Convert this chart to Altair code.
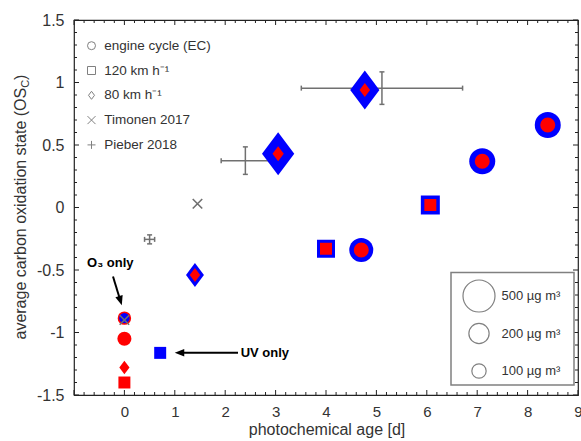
import altair as alt
import pandas as pd

# ---------------- data ----------------
EC = "engine cycle (EC)"
K120 = "120 km h⁻¹"
K80 = "80 km h⁻¹"
TIM = "Timonen 2017"
PIE = "Pieber 2018"
categories = [EC, K120, K80, TIM, PIE]

# aged experiments: blue = total OA mass, red = primary
aged_age = [1.40, 3.05, 4.77, 4.00, 6.07, 4.70, 7.10, 8.40]
aged_osc = [-0.54, 0.43, 0.94, -0.33, 0.02, -0.34, 0.37, 0.66]
aged_cycle = [K80, K80, K80, K120, K120, EC, EC, EC]
aged_total = [280, 900, 740, 158, 176, 281, 330, 330]
aged_primary = [96, 110, 96, 70, 70, 110, 110, 110]

# fresh emissions (age 0)
fresh_age = [0.0, 0.0, 0.0]
fresh_osc = [-1.05, -1.28, -1.40]
fresh_cycle = [EC, K80, K120]
fresh_mass = [96, 90, 70]

# O3 only / UV only
o3_age = [0.0]
o3_osc = [-0.885]
o3_cycle = [EC]
o3_mass = [70]
uv_age = [0.71]
uv_osc = [-1.163]
uv_cycle = [K120]
uv_mass = [70]

# literature
tim_age = [1.45, 0.0]
tim_osc = [0.03, -0.90]
pie_age = [0.50, 2.40, 5.11]
pie_osc = [-0.255, 0.375, 0.955]
pie_xerr = [0.10, 0.48, 1.60]
pie_yerr = [0.036, 0.11, 0.13]

size_legend_values = [500, 200, 100]
size_legend_labels = ["500 µg m³", "200 µg m³", "100 µg m³"]

x_labels = [0, 1, 2, 3, 4, 5, 6, 7, 8, 9]
x_major = [-1, 0, 1, 2, 3, 4, 5, 6, 7, 8, 9]
x_minor = [round(-1 + 0.2 * i, 1) for i in range(51) if i % 5 != 0]
y_major = [-1.5, -1.0, -0.5, 0.0, 0.5, 1.0, 1.5]
y_minor = [round(-1.5 + 0.1 * i, 1) for i in range(31) if i % 5 != 0]

# ---------------- layout ----------------
W, H = 504, 375
PAD_L, PAD_T = 74, 20
XMIN, XMAX, YMIN, YMAX = -1, 9, -1.5, 1.5
FONT = "Liberation Sans"
TXT = "#333333"
AX = "#222222"
GREY = "#707070"
BLUE = "#0000FF"
RED = "#FF0000"


def px2x(p):
    return XMIN + (p - PAD_L) / W * (XMAX - XMIN)


def px2y(p):
    return YMAX - (p - PAD_T) / H * (YMAX - YMIN)


DIAMOND = "M0,-1L0.75,0L0,1L-0.75,0Z"
XSHAPE = "M-1,-1L1,1M-1,1L1,-1"
PLUS = "M-1,0L1,0M0,-1L0,1"
ARROW = "M0,-1L0.8,1L-0.8,1Z"

xs = alt.Scale(domain=[XMIN, XMAX], nice=False, zero=False)
ys = alt.Scale(domain=[YMIN, YMAX], nice=False, zero=False)
size_s = alt.Scale(type="linear", domain=[0, 1000], range=[0, 2050], zero=True)
shape_s = alt.Scale(domain=categories, range=["circle", "square", DIAMOND, XSHAPE, PLUS])

xaxis = alt.Axis(values=x_labels, ticks=False, domain=False, grid=False, title=None,
                 labelFont=FONT, labelFontSize=15, labelColor=TXT, labelPadding=9,
                 labelFlush=False, labelOverlap=False, labelExpr="'' + datum.value")
yaxis = alt.Axis(values=y_major, ticks=False, domain=False, grid=False, title=None,
                 labelFont=FONT, labelFontSize=16, labelColor=TXT, labelPadding=10,
                 labelFlush=False, labelOverlap=False, labelExpr="'' + datum.value")


def X(f):
    return alt.X(f, type="quantitative", scale=xs, axis=xaxis)


def Y(f):
    return alt.Y(f, type="quantitative", scale=ys, axis=yaxis)


layers = []

# ---- inward ticks on all four sides ----
for vals, ln in ((x_major, 5), (x_minor, 3)):
    d = pd.DataFrame({"v": vals})
    layers.append(alt.Chart(d).mark_rule(color=AX, strokeWidth=1).encode(
        x=X("v"), y=alt.value(H - ln), y2=alt.value(H)))
    layers.append(alt.Chart(d).mark_rule(color=AX, strokeWidth=1).encode(
        x=X("v"), y=alt.value(0), y2=alt.value(ln)))
for vals, ln in ((y_major, 5), (y_minor, 3)):
    d = pd.DataFrame({"v": vals})
    layers.append(alt.Chart(d).mark_rule(color=AX, strokeWidth=1).encode(
        y=Y("v"), x=alt.value(0), x2=alt.value(ln)))
    layers.append(alt.Chart(d).mark_rule(color=AX, strokeWidth=1).encode(
        y=Y("v"), x=alt.value(W - ln), x2=alt.value(W)))

# ---- Pieber 2018 error bars ----
pie = pd.DataFrame({"age": pie_age, "osc": pie_osc, "xe": pie_xerr, "ye": pie_yerr})
pie_base = alt.Chart(pie).transform_calculate(
    xlo="datum.age - datum.xe", xhi="datum.age + datum.xe",
    ylo="datum.osc - datum.ye", yhi="datum.osc + datum.ye")
layers.append(pie_base.mark_rule(color=GREY, strokeWidth=1.5).encode(
    x=X("xlo"), x2="xhi", y=Y("osc")))
layers.append(pie_base.mark_rule(color=GREY, strokeWidth=1.5).encode(
    x=X("age"), y=Y("ylo"), y2="yhi"))
for f in ("xlo", "xhi"):
    layers.append(pie_base.mark_tick(orient="vertical", size=5, thickness=1.5,
                                     color=GREY, opacity=1).encode(x=X(f), y=Y("osc")))
for f in ("ylo", "yhi"):
    layers.append(pie_base.mark_tick(orient="horizontal", size=5, thickness=1.5,
                                     color=GREY, opacity=1).encode(x=X("age"), y=Y(f)))

# ---- aged markers ----
aged = pd.DataFrame({"age": aged_age, "osc": aged_osc, "cycle": aged_cycle,
                     "total": aged_total, "primary": aged_primary})
layers.append(alt.Chart(aged).mark_point(filled=True, color=BLUE, opacity=1, strokeWidth=0).encode(
    x=X("age"), y=Y("osc"),
    shape=alt.Shape("cycle:N", scale=shape_s, legend=None),
    size=alt.Size("total:Q", scale=size_s, legend=None)))
layers.append(alt.Chart(aged).mark_point(filled=True, color=RED, opacity=1, strokeWidth=0).encode(
    x=X("age"), y=Y("osc"),
    shape=alt.Shape("cycle:N", scale=shape_s, legend=None),
    size=alt.Size("primary:Q", scale=size_s, legend=None)))

# ---- fresh, O3 only, UV only ----
fresh = pd.DataFrame({"age": fresh_age, "osc": fresh_osc, "cycle": fresh_cycle, "m": fresh_mass})
layers.append(alt.Chart(fresh).mark_point(filled=True, color=RED, opacity=1, strokeWidth=0).encode(
    x=X("age"), y=Y("osc"),
    shape=alt.Shape("cycle:N", scale=shape_s, legend=None),
    size=alt.Size("m:Q", scale=size_s, legend=None)))
o3 = pd.DataFrame({"age": o3_age, "osc": o3_osc, "cycle": o3_cycle, "m": o3_mass})
layers.append(alt.Chart(o3).mark_point(filled=True, fill=BLUE, stroke=RED, strokeWidth=1.5, opacity=1).encode(
    x=X("age"), y=Y("osc"),
    shape=alt.Shape("cycle:N", scale=shape_s, legend=None),
    size=alt.Size("m:Q", scale=size_s, legend=None)))
uv = pd.DataFrame({"age": uv_age, "osc": uv_osc, "cycle": uv_cycle, "m": uv_mass})
layers.append(alt.Chart(uv).mark_point(filled=True, color=BLUE, opacity=1, strokeWidth=0).encode(
    x=X("age"), y=Y("osc"),
    shape=alt.Shape("cycle:N", scale=shape_s, legend=None),
    size=alt.Size("m:Q", scale=size_s, legend=None)))

# ---- Timonen 2017 ----
tim = pd.DataFrame({"age": tim_age, "osc": tim_osc})
layers.append(alt.Chart(tim).mark_point(shape=XSHAPE, filled=False, color=GREY, strokeWidth=1.6,
                                        opacity=1, size=90).encode(x=X("age"), y=Y("osc")))

# ---- annotations (arrows) ----
arrows = pd.DataFrame({
    "x1": [px2x(113), px2x(238)], "y1": [px2y(276.5), px2y(352.7)],
    "x2": [px2x(120.4), px2x(179.5)], "y2": [px2y(300.7), px2y(352.7)],
    "hx": [px2x(120.4), px2x(179.5)], "hy": [px2y(300.7), px2y(352.7)],
    "ang": [163, 270]})
layers.append(alt.Chart(arrows).mark_rule(color="black", strokeWidth=2).encode(
    x=X("x1"), x2="x2", y=Y("y1"), y2="y2"))
layers.append(alt.Chart(arrows).mark_point(shape=ARROW, filled=True, color="black", opacity=1,
                                           strokeWidth=0, size=90).encode(
    x=X("hx"), y=Y("hy"), angle=alt.Angle("ang:Q", scale=None)))
ann = pd.DataFrame({"t": ["O₃ only", "UV only"], "x": [px2x(110.3), px2x(240.7)],
                    "y": [px2y(263.3), px2y(352.7)]})
layers.append(alt.Chart(ann.iloc[[0]]).mark_text(font=FONT, fontSize=13, fontWeight="bold", color="black",
                                                 align="center", baseline="middle").encode(
    x=X("x"), y=Y("y"), text="t:N"))
layers.append(alt.Chart(ann.iloc[[1]]).mark_text(font=FONT, fontSize=13, fontWeight="bold", color="black",
                                                 align="left", baseline="middle").encode(
    x=X("x"), y=Y("y"), text="t:N"))

# ---- shape legend (top left) ----
leg_rows = [45.7 + 24.8 * i for i in range(5)]
leg = pd.DataFrame({"cat": categories, "sx": [px2x(91.5)] * 5, "tx": [px2x(104.3)] * 5,
                    "y": [px2y(r) for r in leg_rows]})
layers.append(alt.Chart(leg).mark_point(filled=False, color="#808080", opacity=1, strokeWidth=1,
                                        size=64).encode(
    x=X("sx"), y=Y("y"), shape=alt.Shape("cat:N", scale=shape_s, legend=None)))
layers.append(alt.Chart(leg).mark_text(font=FONT, fontSize=13.5, color=TXT, align="left",
                                       baseline="middle").encode(x=X("tx"), y=Y("y"), text="cat:N"))

# ---- size legend (bottom right) ----
box = pd.DataFrame({"x1": [px2x(451)], "x2": [px2x(574)], "y1": [px2y(272.5)], "y2": [px2y(385)]})
layers.append(alt.Chart(box).mark_rect(fill="white", stroke="#808080", strokeWidth=1.5).encode(
    x=X("x1"), x2="x2", y=Y("y1"), y2="y2"))
srows = [296, 333.5, 371]
sleg = pd.DataFrame({"m": size_legend_values, "lab": size_legend_labels,
                     "sx": [px2x(479)] * 3, "tx": [px2x(501.5)] * 3,
                     "y": [px2y(r) for r in srows]})
layers.append(alt.Chart(sleg).mark_point(shape="circle", filled=False, color="#808080", opacity=1,
                                         strokeWidth=1.2).encode(
    x=X("sx"), y=Y("y"), size=alt.Size("m:Q", scale=size_s, legend=None)))
layers.append(alt.Chart(sleg).mark_text(font=FONT, fontSize=13, color=TXT, align="left",
                                        baseline="middle").encode(x=X("tx"), y=Y("y"), text="lab:N"))

# ---- axis titles ----
t = pd.DataFrame({"t": ["x"]})
layers.append(alt.Chart(t).mark_text(text="photochemical age [d]", font=FONT, fontSize=16, color=TXT,
                                     align="center", baseline="alphabetic").encode(
    x=alt.value(W / 2 + 1), y=alt.value(415)))
layers.append(alt.Chart(t).mark_text(text="average carbon oxidation state (OS", font=FONT, fontSize=16,
                                     color=TXT, align="left", baseline="alphabetic", angle=270).encode(
    x=alt.value(-48.5), y=alt.value(319.5)))
layers.append(alt.Chart(t).mark_text(text="C", font=FONT, fontSize=11, color=TXT, align="left",
                                     baseline="alphabetic", angle=270).encode(
    x=alt.value(-45), y=alt.value(67.8)))
layers.append(alt.Chart(t).mark_text(text=")", font=FONT, fontSize=16, color=TXT, align="left",
                                     baseline="alphabetic", angle=270).encode(
    x=alt.value(-48.5), y=alt.value(59.9)))

chart = alt.layer(*layers).properties(
    width=W, height=H,
    autosize=alt.AutoSizeParams(type="none"),
    padding={"left": PAD_L, "top": PAD_T, "right": 3, "bottom": 46},
).configure_view(stroke=AX, strokeWidth=1.2)

chart.save("out.html", embed_options={"renderer": "svg", "actions": False})
